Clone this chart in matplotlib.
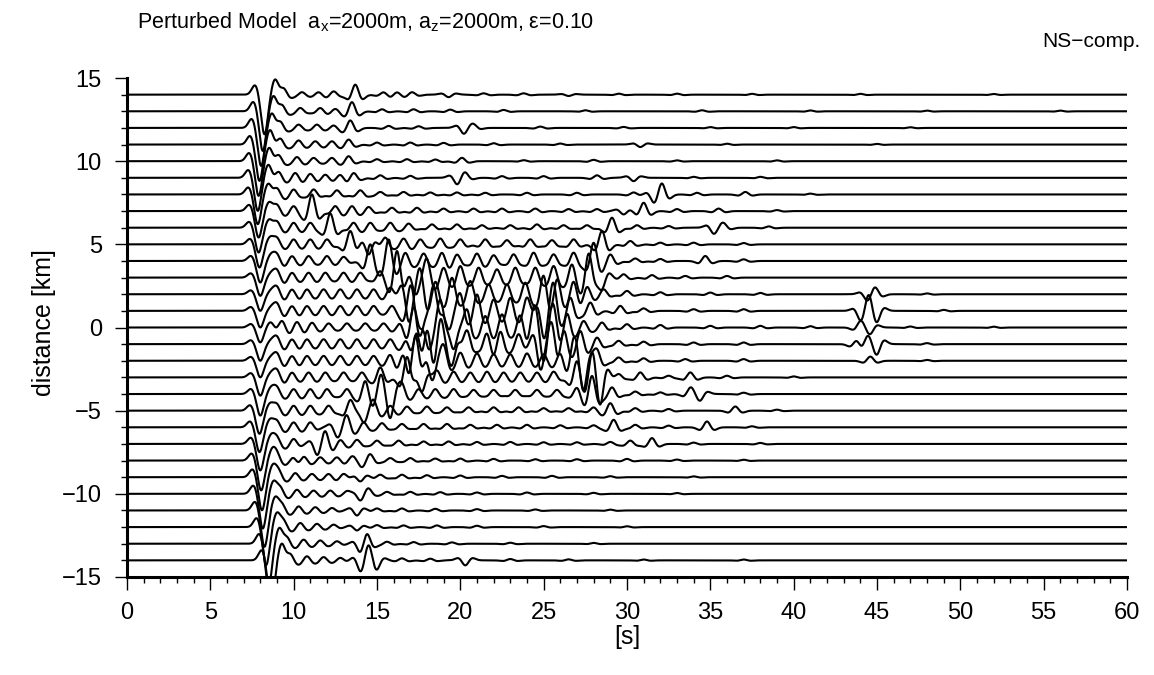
import numpy as np
import matplotlib.pyplot as plt
from matplotlib.ticker import MultipleLocator

plt.rcParams['font.family'] = ['Liberation Sans', 'DejaVu Sans']

# receiver distances [km], top to bottom
distances = list(range(14, -15, -1))

# direct wave: time of the main (downward) lobe [s] and its depth [km]
direct_time = [8.25, 8.15, 8.05, 7.95, 7.9, 7.85, 7.85, 7.9, 7.9, 7.95, 8.0, 8.0, 8.0, 8.0, 8.0,
               8.0, 8.0, 8.0, 8.0, 7.95, 7.95, 8.0, 8.05, 8.1, 8.15, 8.25, 8.35, 8.5, 8.65]
direct_amp = [2.4, 2.4, 2.3, 2.2, 2.1, 2.0, 1.8, 1.6, 1.5, 1.4, 1.3, 1.1, 1.0, 1.0, 0.9,
              1.0, 1.0, 1.1, 1.3, 1.4, 1.5, 1.6, 1.8, 2.0, 2.1, 2.2, 2.3, 2.5, 2.6]

# coda / scattered arrivals: (time [s], amplitude [km])
arrivals = [
    # 14
    [(9.4, .35), (10.5, .15), (11.5, .15), (12.4, .2), (13.7, .6), (15.4, .15), (16.2, .15), (17.1, .15),
     (19.3, -.15), (21.4, .08), (23.8, .08), (26.5, -.08), (29.5, .06), (33, .06), (37.5, .05), (44, .05), (52, .04)],
    # 13
    [(9.3, .35), (10.4, .2), (11.6, .2), (12.5, .15), (13.5, .55), (15.3, .12), (17.2, .12), (19.4, .1),
     (22.6, .08), (27.5, .06), (34.5, .06), (41, .05), (48, .04), (56, .04)],
    # 12
    [(9.2, .35), (10.3, .2), (11.4, .2), (12.4, .15), (13.4, .45), (15.7, .12), (17.5, .1), (20.2, -.3),
     (20.8, .15), (24.8, .08), (29.8, .06), (35, .05), (40, .05), (47, .04)],
    # 11
    [(9.2, .35), (10.3, .25), (11.3, .2), (12.3, .2), (13.3, .3), (15, .12), (17, .12), (19, .1),
     (22, .08), (26, .06), (30.8, -.15), (36, .05), (45, .04)],
    # 10
    [(9.1, .35), (10.2, .25), (11.2, .2), (12.3, .2), (13.3, .3), (15, .12), (16.8, .12), (18.5, .1),
     (20.1, .2), (23.8, .06), (28, .08), (33, .05), (39, .05)],
    # 9
    [(9.1, .35), (10.1, .3), (11, .25), (11.9, .2), (12.8, .2), (13.6, .3), (15.2, .15), (17, .12),
     (19.8, -.3), (20.3, .2), (22.5, .1), (25, .1), (28.2, .15), (30.4, -.2), (34, .06), (38, .06)],
    # 8
    [(9, .35), (10, .3), (11.2, .3), (12.6, .25), (14, .25), (15.2, .15), (16.6, .15), (18.2, .12),
     (19.8, .12), (21.5, .1), (24, .1), (27, .1), (30.4, .12), (31.6, -.25), (32.1, .55), (34.2, .1),
     (37.1, .15), (41, .05)],
    # 7
    [(9, .35), (10, .3), (11.1, 1.0), (12.5, .3), (13.5, .3), (14.5, .25), (15.9, .2), (17.4, .2),
     (19, .15), (20.8, .15), (22.5, .15), (24.5, .15), (26.5, .12), (28.2, .12), (29.8, -.2), (31, .5),
     (33, .12), (35.5, .15), (39, .06)],
    # 6
    [(9, .35), (10, .3), (11, .3), (12.2, .85), (13.6, .3), (14.6, .3), (15.8, .3), (16.9, .25),
     (18.3, .2), (19.8, .2), (21.3, .15), (23, .15), (24.6, .2), (26.2, .15), (27.6, .15), (29.1, .6),
     (30.6, .15), (32.5, .1), (35.2, -.3), (35.8, .2), (38.5, .08)],
    # 5
    [(9, .35), (10, .3), (11, .3), (12, .3), (13.4, .8), (14.5, -.6), (15.5, .4), (16.6, .35),
     (17.6, .3), (18.8, .35), (20, .3), (21.5, .3), (22.8, .25), (24.2, .3), (25.5, .25), (26.8, .3),
     (28.5, .8), (30.2, .2), (32, .1), (34, .1), (37, .08)],
    # 4
    [(9, .35), (9.9, .3), (10.9, .3), (12, .3), (13, .25), (14.6, 1.0), (15.7, 1.3), (16.7, .5),
     (17.8, .45), (18.9, .5), (19.8, .4), (21, .45), (22, .35), (23.2, .4), (24.4, .5), (25.6, .4),
     (26.8, .5), (28, 1.1), (29, .4), (30.5, .15), (32, .12), (34.7, .3), (37, .1)],
    # 3
    [(9, .4), (9.9, .3), (10.9, .3), (11.9, .3), (13, .3), (14, .3), (15.2, .4), (16.2, 1.6),
     (17.3, -.8), (18, 1.0), (19, .6), (20, .7), (21.1, .6), (22.2, .5), (23.3, .6), (24.5, .6),
     (25.6, .7), (26.7, .8), (27.7, 1.4), (28.5, -.6), (29.8, .2), (31.5, .15), (33.5, .1), (36, .1)],
    # 2
    [(9, .4), (9.9, .3), (10.8, .3), (11.8, .3), (12.8, .3), (13.8, .3), (14.8, .3), (15.8, .4),
     (16.9, -1.4), (17.6, 1.3), (18.5, .8), (19.5, 1.0), (20.6, .8), (21.7, .6), (22.8, .6), (23.9, .7),
     (25, 1.2), (25.8, 1.0), (26.8, .8), (27.6, .5), (28.6, .3), (30, .2), (32, .12), (35, .1),
     (38, .08), (44.4, -.25), (44.9, .3), (48, .05)],
    # 1
    [(9, .4), (9.9, .3), (10.8, .3), (11.8, .3), (12.8, .3), (13.8, .3), (14.8, .3), (15.9, .3),
     (17, 1.2), (17.6, -1.0), (18.4, 1.4), (19.3, -.9), (20, .9), (21, 1.0), (22, .7), (23, .8),
     (24, .8), (25, -1.2), (25.6, 1.3), (26.6, .8), (27.8, .5), (29.6, .3), (31, .15), (34, .1),
     (37, .1), (44, -.3), (44.5, .65), (45, -.4), (49, .06)],
    # 0
    [(9.3, .4), (10.2, .35), (11.1, .3), (12.1, .25), (13.2, .25), (14.3, .25), (15.4, .25), (16.4, .3),
     (17.2, 1.2), (18.1, -1.0), (18.8, 1.4), (19.6, -1.1), (20.4, 1.0), (21.5, .7), (22.5, .8), (23.6, .8),
     (24.4, .9), (25, -1.4), (25.6, 1.0), (26.4, .9), (27.4, .4), (28.5, .3), (30, .2), (32, .15),
     (35, .1), (38, .1), (41, .08), (44, .3), (44.6, -.3), (47, .06), (52, .05)],
    # -1
    [(9, .4), (9.9, .3), (10.8, .3), (11.8, .3), (12.8, .3), (13.8, .3), (14.8, .3), (15.8, .3),
     (16.8, .5), (17.4, 1.2), (18, 1.3), (18.8, 1.4), (19.5, -1.0), (20.4, .8), (21.6, .7), (22.4, .8),
     (23.5, .6), (24.8, -1.3), (25.5, 1.2), (26.2, 1.0), (27.2, .8), (28.2, .4), (29.5, .2), (31, .15),
     (34, .1), (37, .1), (43.8, .3), (44.4, .4), (45, -.5), (48, .06)],
    # -2
    [(9, .4), (9.9, .3), (10.8, .3), (11.8, .3), (12.8, .3), (13.8, .3), (14.8, .3), (15.8, .4),
     (16.6, .6), (17.3, 1.6), (18.3, -1.0), (19, .8), (20, .5), (21, .45), (22, .4), (23, .4),
     (24, .45), (25, .4), (26, .5), (26.8, 1.0), (27.4, -1.4), (28.2, .6), (29.5, .2), (31, .15),
     (33.5, .1), (37, .1), (44.6, .25), (48, .05)],
    # -3
    [(9, .4), (9.9, .3), (10.9, .3), (11.9, .3), (13, .3), (14.1, .3), (15.2, .6), (16.8, 1.2),
     (17.7, -.8), (18.6, .4), (19.6, .35), (20.6, .3), (21.6, .35), (22.6, .3), (23.6, .3), (24.6, .3),
     (25.6, .35), (27, 1.0), (27.9, 1.0), (28.4, -1.2), (29.5, .2), (30.8, .3), (32.5, .1), (33.8, .3),
     (36, .1), (40, .06)],
    # -4
    [(9, .35), (10, .3), (11, .3), (12, .3), (13.2, .3), (14.3, .8), (15.2, .8), (15.8, -1.1),
     (16.5, .5), (17.5, .3), (18.5, .3), (19.6, .3), (20.8, .25), (22, .25), (23.3, .25), (24.6, .25),
     (25.8, .25), (27, .4), (27.9, 1.1), (29.1, .4), (30.5, .15), (32, .1), (33.8, .3), (34.4, -.3),
     (37, .08)],
    # -5
    [(9, .35), (10, .3), (11, .3), (12.1, .3), (13.4, .6), (14.2, -.5), (14.8, .5), (15.8, .3),
     (16.8, .25), (18, .25), (19.2, .2), (20.5, .2), (22, .2), (23.5, .2), (25, .15), (26.5, .15),
     (28, .2), (29, .45), (30.5, .15), (32.5, .1), (36.5, .25), (39, .06)],
    # -6
    [(9, .35), (10, .3), (11, .3), (12.6, -.4), (13.2, .6), (14.2, .3), (15.3, .25), (16.5, .2),
     (17.8, .2), (19.2, .2), (20.6, .15), (22.2, .15), (24, .15), (26, .12), (28, .12), (29.2, .45),
     (30.5, .15), (32.5, .1), (34.8, .35), (37.5, .06)],
    # -7
    [(9, .35), (10, .3), (11.4, -.4), (11.9, .6), (12.8, .25), (13.8, .25), (15, .2), (16.3, .2),
     (17.8, .15), (19.3, .15), (21, .12), (23, .12), (25, .1), (27, .1), (29, .12), (30.2, .2),
     (31.5, .35), (34, .08), (38, .06)],
    # -8
    [(9, .35), (10, .25), (10.6, .3), (11.6, .2), (12.6, .2), (13.5, .2), (14.1, -.2), (14.6, .3),
     (15.8, .15), (17, .15), (18.5, .12), (20, .12), (22, .1), (24.5, .08), (27, .08), (30, .1),
     (33, .06), (37, .05)],
    # -9
    [(9.1, .35), (10.1, .25), (11.1, .2), (12.1, .2), (13, .2), (14, -.25), (15.2, .15), (16.5, .15),
     (18, .12), (20, .1), (22.5, .08), (25.5, .08), (29, .06), (34, .05)],
    # -10
    [(9.2, .35), (10.2, .25), (11.2, .2), (12.2, .2), (13.2, .15), (14, -.3), (14.5, .2), (15.6, .12),
     (17, .12), (18.8, .1), (21, .08), (24, .08), (28, .06), (33, .05)],
    # -11
    [(9.3, .35), (10.3, .25), (11.3, .2), (12.3, .15), (13.8, -.3), (15, .12), (16.5, .12), (18.5, .1),
     (21, .08), (24.5, .06), (29, .05)],
    # -12
    [(9.4, .35), (10.4, .25), (11.4, .2), (12.4, .15), (13.8, -.2), (15, .12), (16.6, .1), (18.6, .1),
     (21, .08), (25, .06), (30, .05)],
    # -13
    [(9.6, .35), (10.6, .25), (11.6, .2), (12.6, .15), (14, -.3), (14.4, .45), (15.6, .12), (17.2, .1),
     (19.5, .08), (23, .06), (28, .05)],
    # -14
    [(9.8, .35), (10.8, .25), (11.8, .2), (12.8, .15), (14, -.4), (14.5, .6), (15, -.3), (16.5, .12),
     (18.2, .1), (20.3, -.3), (23, .08), (26.5, .06), (31, .05), (37, .05)],
]

t = np.linspace(0, 60, 6001)


def ricker(tt, f=0.85):
    a = (np.pi * f * tt) ** 2
    return (1 - 2 * a) * np.exp(-a)


def gauss(tt, s=0.2):
    return np.exp(-0.5 * (tt / s) ** 2)


fig = plt.figure(figsize=(11.54, 6.75), dpi=100)
ax = fig.add_axes([0.110, 0.1452, 0.8666, 0.754])

for d, t0, A, ev in zip(distances, direct_time, direct_amp, arrivals):
    w = 0.25 * A * gauss(t - t0 + 0.55) - A * gauss(t - t0) + 0.45 * A * gauss(t - t0 - 0.65)
    for tk, ak in ev:
        w += ak * ricker(t - tk)
    ax.plot(t, d + w, color='black', lw=1.5)

ax.set_xlim(0, 60)
ax.set_ylim(-15, 15.6)
ax.spines['left'].set_bounds(-15, 15)
for s in ['top', 'right']:
    ax.spines[s].set_visible(False)
for s in ['left', 'bottom']:
    ax.spines[s].set_linewidth(2.2)

ax.xaxis.set_major_locator(MultipleLocator(5))
ax.xaxis.set_minor_locator(MultipleLocator(1))
ax.yaxis.set_minor_locator(MultipleLocator(1))
ax.set_yticks(np.arange(-15, 16, 5))
ax.set_yticklabels(['\u221215', '\u221210', '\u22125', '0', '5', '10', '15'])
ax.tick_params(which='major', direction='out', length=9, width=1, labelsize=17, pad=9)
ax.tick_params(which='minor', direction='out', length=4.5, width=1)

ax.set_xlabel('[s]', fontsize=18, labelpad=1)
ax.set_ylabel('distance [km]', fontsize=18, labelpad=4)

fig.text(0.119, 0.967, 'Perturbed Model  a$_\\mathregular{x}$=2000m, a$_\\mathregular{z}$=2000m, \u03b5=0.10',
         fontsize=15.5, ha='left', va='center')
fig.text(0.988, 0.938, 'NS\u2212comp.', fontsize=15, ha='right', va='center')

plt.savefig('out.png', dpi=100)
